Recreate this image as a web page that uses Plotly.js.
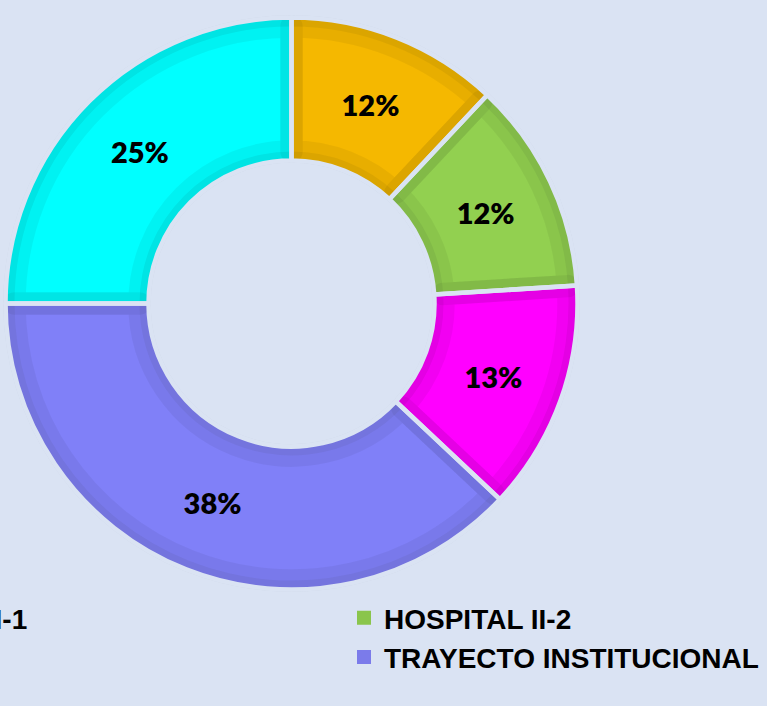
<!DOCTYPE html>
<html>
<head>
<meta charset="utf-8">
<script src="https://cdn.plot.ly/plotly-3.0.1.min.js"></script>
<style>
  html, body { margin: 0; padding: 0; overflow: hidden; background: #DAE3F3; width: 767px; height: 706px; }
  #chart { position: absolute; left: -400px; top: 0; width: 1167px; height: 706px; }
</style>
</head>
<body>
<div id="chart"></div>
<script>
// ---- data ----
// The reference is a crop: the names of two categories fall outside the picture,
// so they are left blank (two different blank strings keep the slices apart).
const labels = ["HOSPITAL II-1", "HOSPITAL II-2", " ", "TRAYECTO INSTITUCIONAL", "  "];
const values = [12, 12, 13, 38, 25];
const fillColors = ["#F5B800", "#92D050", "#FF00FF", "#8080F8", "#00FFFF"];
const bandColors = ["#E7AE00", "#8AC54C", "#F100F1", "#7B7BEA", "#00F1F1"];

// ---- geometry (pixels within the full, partly hidden, figure) ----
const W = 1167, H = 706;
const cx = 691.5, cy = 303.5, R = 286, band = 9;
const holeOuter = 0.5;
function dom(r) {
  return {
    x: [(cx - r) / W, (cx + r) / W],
    y: [(H - cy - r) / H, (H - cy + r) / H]
  };
}
const innerR = R * holeOuter;
const bg = "#DAE3F3";
const common = {
  type: "pie", values: values, labels: labels, sort: false,
  direction: "clockwise", rotation: 0, hoverinfo: "skip"
};

const tBand = Object.assign({}, common, {
  domain: dom(R), hole: holeOuter,
  marker: { colors: bandColors, line: { color: bandColors, width: 2 } },
  textinfo: "none", showlegend: true
});
const tFill = Object.assign({}, common, {
  domain: dom(R - band), hole: (innerR + band) / (R - band),
  marker: { colors: fillColors, line: { width: 0 } },
  textinfo: "none", showlegend: false
});
const tEdge = Object.assign({}, common, {
  domain: dom(R - band), hole: (innerR + band) / (R - band),
  marker: { colors: fillColors.map(() => "rgba(0,0,0,0)"), line: { color: "rgba(0,0,0,0.05)", width: 22.5 } },
  textinfo: "none", showlegend: false
});
const tGap = Object.assign({}, common, {
  domain: dom(R), hole: holeOuter,
  marker: { colors: fillColors.map(() => "rgba(0,0,0,0)"), line: { color: bg, width: 4.5 } },
  texttemplate: "%{percent:.0%}", textposition: "inside", insidetextorientation: "horizontal",
  textfont: { family: "Lato, 'Open Sans', sans-serif", size: 29, weight: 800, color: "#000000" },
  showlegend: false
});

const layout = {
  width: W, height: H,
  paper_bgcolor: bg, plot_bgcolor: bg,
  margin: { l: 0, r: 0, t: 0, b: 0, autoexpand: false },
  showlegend: true,
  legend: {
    orientation: "h", entrywidth: 499, entrywidthmode: "pixels",
    xref: "container", yref: "container",
    x: 200 / W, xanchor: "left",
    y: 1 - 593 / H, yanchor: "top",
    bgcolor: "rgba(0,0,0,0)", traceorder: "normal",
    font: { family: "'Liberation Sans', Arial, sans-serif", size: 28, weight: "bold", color: "#000000" }
  }
};

Plotly.newPlot("chart", [tBand, tFill, tEdge, tGap], layout, { displayModeBar: false, staticPlot: true });
</script>
</body>
</html>
